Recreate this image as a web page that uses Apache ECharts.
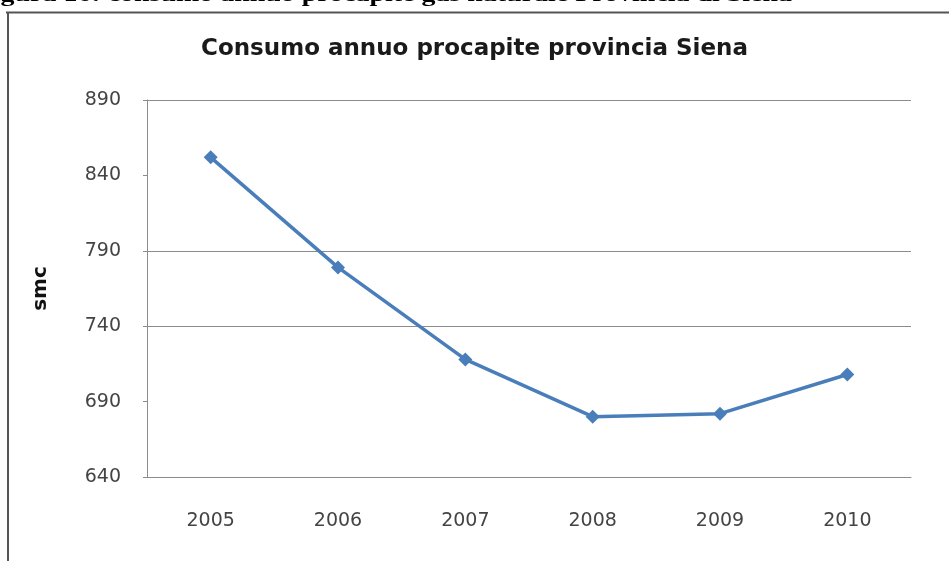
<!DOCTYPE html>
<html>
<head>
<meta charset="utf-8">
<script src="https://cdn.jsdelivr.net/npm/echarts@6/dist/echarts.min.js"></script>
<style>
html,body{margin:0;padding:0;background:#fff;}
#main{width:949px;height:561px;}
</style>
</head>
<body>
<div id="main"></div>
<script>
const years = ['2005', '2006', '2007', '2008', '2009', '2010'];
const consumo = [852, 779, 718, 680, 682, 708];
const yTicks = [640, 690, 740, 790, 840, 890];
const chartTitle = 'Consumo annuo procapite provincia Siena';
const yAxisName = 'smc';
const caption = 'Figura 16: consumo annuo procapite gas naturale Provincia di Siena';

const chart = echarts.init(document.getElementById('main'), null, {renderer: 'canvas'});
const gridColor = '#8c8c8c';
chart.setOption({
  animation: false,
  backgroundColor: '#fff',
  title: {
    text: chartTitle,
    left: 'center',
    top: 33,
    textStyle: {fontFamily: 'DejaVu Sans', fontSize: 23, fontWeight: 'bold', color: '#1a1a1a'}
  },
  graphic: [
    {type: 'line', shape: {x1: 6, y1: 12.5, x2: 949, y2: 12.5}, style: {stroke: '#555', lineWidth: 2}, silent: true},
    {type: 'line', shape: {x1: 8, y1: 12, x2: 8, y2: 561}, style: {stroke: '#555', lineWidth: 2}, silent: true},
    {type: 'text', x: 792, y: -5, scaleX: 1.27, style: {text: caption, align: 'right', verticalAlign: 'middle', font: 'bold 22px "Liberation Serif"', fill: '#000'}, silent: true}
  ],
  grid: {left: 147, right: 38, top: 100, bottom: 84},
  xAxis: {
    type: 'category',
    data: years,
    boundaryGap: true,
    axisLine: {lineStyle: {color: gridColor, width: 1}},
    axisTick: {show: false},
    axisLabel: {fontFamily: 'DejaVu Sans', fontSize: 19, color: '#444', margin: 35}
  },
  yAxis: {
    type: 'value',
    min: yTicks[0],
    max: yTicks[yTicks.length - 1],
    interval: 50,
    name: yAxisName,
    nameLocation: 'middle',
    nameGap: 96,
    nameRotate: 90,
    nameTextStyle: {fontFamily: 'DejaVu Sans', fontSize: 20, fontWeight: 'bold', color: '#111'},
    axisLine: {show: true, lineStyle: {color: gridColor, width: 1}},
    axisTick: {show: true, length: 4, lineStyle: {color: gridColor}},
    axisLabel: {fontFamily: 'DejaVu Sans', fontSize: 19, color: '#444', margin: 26},
    splitLine: {show: true, lineStyle: {color: [gridColor, 'rgba(0,0,0,0)', gridColor, gridColor, 'rgba(0,0,0,0)', gridColor], width: 1}}
  },
  series: [{
    type: 'line',
    data: consumo,
    symbol: 'diamond',
    symbolSize: 14,
    itemStyle: {color: '#4a7ebb'},
    lineStyle: {color: '#4a7ebb', width: 3.5}
  }]
});
</script>
</body>
</html>
